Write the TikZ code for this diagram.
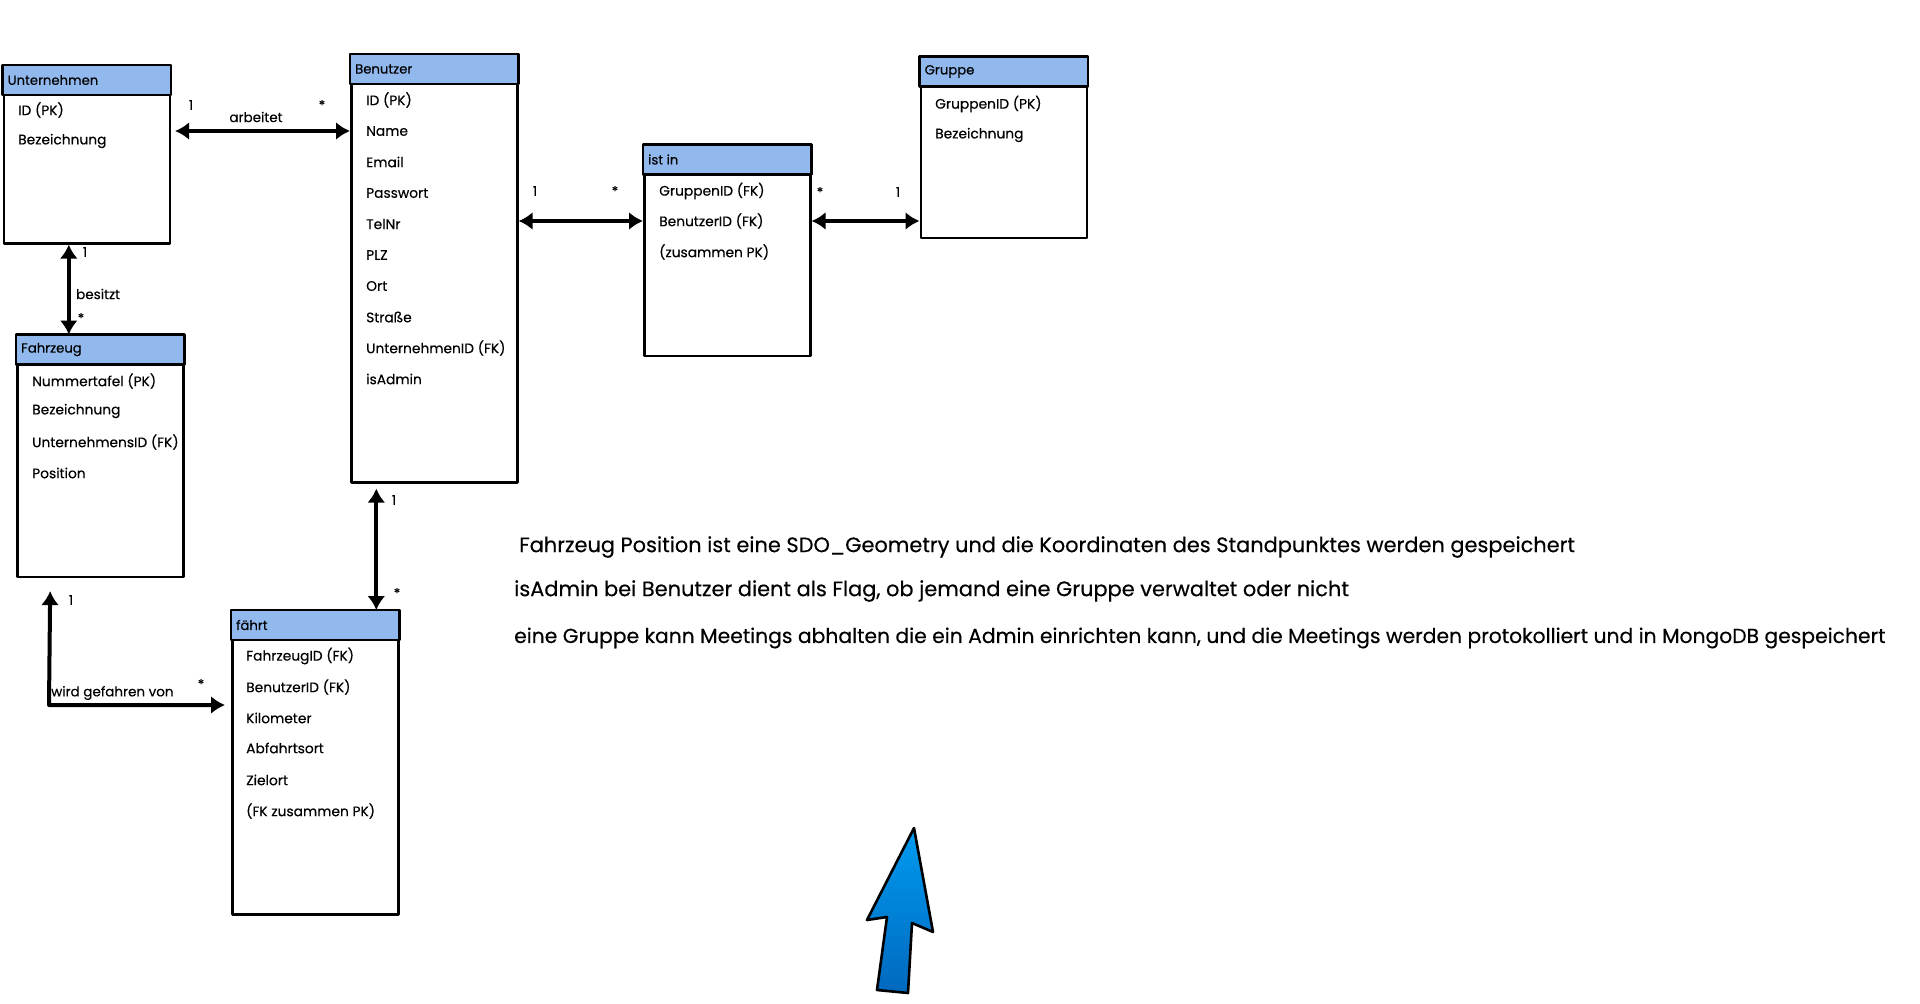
\documentclass[tikz,border=0pt]{standalone}
\usepackage{fontspec}
\setmainfont{Poppins}[FakeBold=0.35]
\usetikzlibrary{arrows.meta}

\begin{document}
\begin{tikzpicture}[x=1pt, y=-1pt, line join=round, line cap=round,
    entity/.style={draw=black, fill=white, line width=2.6pt, inner sep=0pt, anchor=north west, minimum width=166pt},
    kopf/.style={draw=black, fill=cKopf, line width=2.6pt},
    titel/.style={anchor=west, inner sep=0pt, font=\fontsize{13.2}{15}\selectfont},
    feld/.style={anchor=west, inner sep=0pt, font=\fontsize{13.8}{16}\selectfont},
    karte/.style={inner sep=0pt, font=\fontsize{13.5}{15}\selectfont},
    rel/.style={line width=4pt, {Latex[length=14pt,width=18pt]}-{Latex[length=14pt,width=18pt]}},
    hinweis/.style={anchor=west, inner sep=0pt, font=\fontsize{20.9}{24}\selectfont}]
  \definecolor{cKopf}{RGB}{145, 185, 238}
  \definecolor{cPfeilOben}{RGB}{0, 155, 240}
  \definecolor{cPfeilUnten}{RGB}{0, 105, 190}

  \useasboundingbox (0,0) rectangle (1920,1004);

  \node[entity, minimum height=177pt] (unternehmen) at (2.5,65) {};
  \node[entity, minimum height=427pt] (benutzer) at (350,54) {};
  \node[entity, minimum height=210pt] (istin) at (643,144.5) {};
  \node[entity, minimum height=180pt] (gruppe) at (919.5,56.5) {};
  \node[entity, minimum height=241pt] (fahrzeug) at (16,334.5) {};
  \node[entity, minimum height=303pt] (faehrt) at (231,610) {};

  \draw[kopf] (unternehmen.north west) rectangle ([yshift=-30pt]unternehmen.north east);
  \draw[kopf] (benutzer.north west) rectangle ([yshift=-30pt]benutzer.north east);
  \draw[kopf] (istin.north west) rectangle ([yshift=-30pt]istin.north east);
  \draw[kopf] (gruppe.north west) rectangle ([yshift=-30pt]gruppe.north east);
  \draw[kopf] (fahrzeug.north west) rectangle ([yshift=-30pt]fahrzeug.north east);
  \draw[kopf] (faehrt.north west) rectangle ([yshift=-30pt]faehrt.north east);

  \node[titel] (u-titel) at ([xshift=5pt,yshift=-15pt]unternehmen.north west) {Unternehmen};
  \node[titel] (b-titel) at ([xshift=5pt,yshift=-15pt]benutzer.north west) {Benutzer};
  \node[titel] (i-titel) at ([xshift=5pt,yshift=-15pt]istin.north west) {ist in};
  \node[titel] (g-titel) at ([xshift=5pt,yshift=-15pt]gruppe.north west) {Gruppe};
  \node[titel] (f-titel) at ([xshift=5pt,yshift=-15pt]fahrzeug.north west) {Fahrzeug};
  \node[titel] (t-titel) at ([xshift=5pt,yshift=-15pt]faehrt.north west) {fährt};

  \node[feld] (u-id) at (18,110) {ID (PK)};
  \node[feld] (u-bez) at (18,141) {Bezeichnung};

  \node[feld] (b-id) at (366,100) {ID (PK)};
  \node[feld] (b-name) at (366,131) {Name};
  \node[feld] (b-mail) at (366,162) {Email};
  \node[feld] (b-pw) at (366,193) {Passwort};
  \node[feld] (b-tel) at (366,224) {TelNr};
  \node[feld] (b-plz) at (366,255) {PLZ};
  \node[feld] (b-ort) at (366,286) {Ort};
  \node[feld] (b-str) at (366,317) {Straße};
  \node[feld] (b-uid) at (366,348) {UnternehmenID (FK)};
  \node[feld] (b-admin) at (366,379) {isAdmin};

  \node[feld] (i-gruppe) at (659,191) {GruppenID (FK)};
  \node[feld] (i-benutzer) at (659,221) {BenutzerID (FK)};
  \node[feld] (i-pk) at (659,252) {(zusammen PK)};

  \node[feld] (g-id) at (935,104) {GruppenID (PK)};
  \node[feld] (g-bez) at (935,135) {Bezeichnung};

  \node[feld] (f-nr) at (32,381) {Nummertafel (PK)};
  \node[feld] (f-bez) at (32,411) {Bezeichnung};
  \node[feld] (f-uid) at (32,442) {UnternehmensID (FK)};
  \node[feld] (f-pos) at (32,473) {Position};

  \node[feld] (t-fzg) at (246,656) {FahrzeugID (FK)};
  \node[feld] (t-ben) at (246,687) {BenutzerID (FK)};
  \node[feld] (t-km) at (246,718) {Kilometer};
  \node[feld] (t-ab) at (246,748) {Abfahrtsort};
  \node[feld] (t-ziel) at (246,780) {Zielort};
  \node[feld] (t-pk) at (246,811) {(FK zusammen PK)};

  \coordinate (besitzt-x) at ([xshift=-18pt]unternehmen.south);
  \coordinate (faehrt-x) at ([xshift=61pt]faehrt.north);
  \coordinate (f-unten) at ([xshift=-50pt]fahrzeug.south);
  \coordinate (w-ecke) at (49,705);

  \draw[rel, shorten <=4pt] (unternehmen.east |- b-name) -- (benutzer.west |- b-name);
  \draw[rel] (benutzer.east |- i-benutzer) -- (istin.west |- i-benutzer);
  \draw[rel] (istin.east |- i-benutzer) -- (gruppe.west |- i-benutzer);
  \draw[rel] (besitzt-x) -- (besitzt-x |- fahrzeug.north);
  \draw[rel, shorten <=5pt] (benutzer.south -| faehrt-x) -- (faehrt-x);
  \draw[rel, shorten <=13pt, shorten >=6pt] (f-unten) -- (w-ecke) -- (w-ecke -| faehrt.west);

  \node[karte] (k-arb1) at (191,105) {1};
  \node[karte] (k-arb2) at (322,105) {*};
  \node[karte] (l-arb) at (256,117) {arbeitet};
  \node[karte] (k-bi1) at (535,191) {1};
  \node[karte] (k-bi2) at (615,191) {*};
  \node[karte] (k-ig1) at (820,192) {*};
  \node[karte] (k-ig2) at (898,192) {1};
  \node[karte] (k-bes1) at (85,252) {1};
  \node[karte, anchor=west] (l-bes) at (76,294) {besitzt};
  \node[karte] (k-bes2) at (81,318) {*};
  \node[karte] (k-bt1) at (394,500) {1};
  \node[karte] (k-bt2) at (397,593) {*};
  \node[karte] (k-wgv1) at (71,600) {1};
  \node[karte, anchor=west] (l-wgv) at (51,693) {wird gefahren von};
  \node[karte] (k-wgv2) at (201,684) {*};

  \node[hinweis] (hinweis-1) at (519,547) {Fahrzeug Position ist eine SDO\_Geometry und die Koordinaten des Standpunktes werden gespeichert};
  \node[hinweis] (hinweis-2) at (514,591) {isAdmin bei Benutzer dient als Flag, ob jemand eine Gruppe verwaltet oder nicht};
  \node[hinweis, font=\fontsize{20.3}{24}\selectfont] (hinweis-3) at (514,638) {eine Gruppe kann Meetings abhalten die ein Admin einrichten kann, und die Meetings werden protokolliert und in MongoDB gespeichert};

  \shade[top color=cPfeilOben, bottom color=cPfeilUnten, draw=black, line width=2.6pt]
    (914,828) -- (933,932) -- (912,923) -- (908,993) -- (877,990) -- (887,917) -- (867,920) -- cycle;
\end{tikzpicture}
\end{document}
